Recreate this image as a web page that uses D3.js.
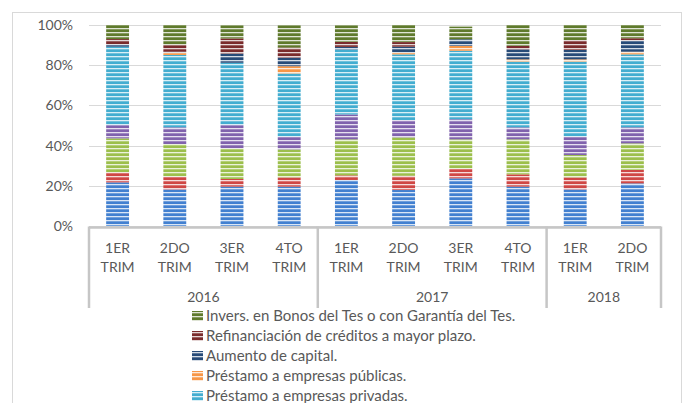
<!DOCTYPE html>
<html>
<head>
<meta charset="utf-8">
<script src="https://cdn.jsdelivr.net/npm/d3@7"></script>
<style>
  html, body { margin: 0; padding: 0; background: #fff; overflow: hidden; }
  svg { display: block; font-family: Lato, "Open Sans", sans-serif; }
</style>
</head>
<body>
<svg id="chart" width="686" height="403"></svg>
<script>
// ---- Data ----
const quarters = ["1ER TRIM","2DO TRIM","3ER TRIM","4TO TRIM","1ER TRIM","2DO TRIM","3ER TRIM","4TO TRIM","1ER TRIM","2DO TRIM"];
const years = ["2016","2017","2018"];
const yearSpan = [4, 4, 2];
const yTicks = [0, 20, 40, 60, 80, 100];

// series, bottom to top (the four lowest series' legend entries fall below the visible area)
const seriesNames = [
  "Otros destinos.",
  "Pago de deudas.",
  "Capital de trabajo.",
  "Inversión en activos fijos.",
  "Préstamo a empresas privadas.",
  "Préstamo a empresas públicas.",
  "Aumento de capital.",
  "Refinanciación de créditos a mayor plazo.",
  "Invers. en Bonos del Tes o con Garantía del Tes."
];
const seriesColors = ["#4280d0","#cf4745","#9cbf4c","#8062ad","#43add0","#f79646","#274b78","#7a2b2c","#5f7a2c"];

const sBlue    = [21.7,18.2,19.6,19.6,22.9,17.9,23.7,19.6,18.2,21.2];
const sRed     = [5.0,6.3,3.8,4.6,2.3,7.1,4.7,6.1,6.0,6.7];
const sGreen   = [16.9,16.3,15.2,13.9,17.9,19.1,14.7,17.4,11.1,13.2];
const sPurple  = [6.6,8.3,11.6,6.3,12.4,8.6,10.0,6.0,9.1,8.0];
const sCyan    = [39.0,36.0,31.0,31.5,32.3,32.7,34.1,32.7,37.4,36.3];
const sOrange  = [0,1.1,0,3.6,0,0.8,2.4,1.1,1.1,1.3];
const sNavy    = [1.2,0.5,4.6,4.3,1.3,3.0,3.3,5.0,4.7,5.5];
const sDarkRed = [2.6,3.3,7.5,5.0,2.5,2.3,0,1.7,4.9,1.2];
const sOlive   = [7.0,10.0,6.6,11.1,8.3,8.5,6.3,10.4,7.5,6.6];
const seriesValues = [sBlue,sRed,sGreen,sPurple,sCyan,sOrange,sNavy,sDarkRed,sOlive];

// ---- Build table ----
const table = quarters.map((q, i) => {
  const row = { idx: i };
  seriesNames.forEach((n, k) => row[n] = seriesValues[k][i]);
  return row;
});
const stacked = d3.stack().keys(seriesNames)(table);

// ---- Layout ----
const svg = d3.select("#chart");
const pLeft = 89, pRight = 661, pTop = 25, pBottom = 226;
const x = d3.scaleBand().domain(d3.range(quarters.length)).range([pLeft, pRight]).paddingInner(0.6).paddingOuter(0.3);
const y = d3.scaleLinear().domain([0, 100]).range([pBottom, pTop]);
const textColor = "#595959";

// frame
svg.append("rect").attr("x", 12.5).attr("y", 12.5).attr("width", 669).attr("height", 420)
  .attr("fill", "none").attr("stroke", "#d9d9d9").attr("stroke-width", 1);

// patterns
const defs = svg.append("defs");
seriesColors.forEach((c, k) => {
  const p = defs.append("pattern").attr("id", "pat" + k)
    .attr("patternUnits", "userSpaceOnUse").attr("width", 8).attr("height", 4);
  p.append("rect").attr("width", 8).attr("height", 4).attr("fill", c);
  p.append("rect").attr("y", 0).attr("width", 8).attr("height", 1.3).attr("fill", "#fff").attr("opacity", 0.8);
});

// gridlines
svg.append("g").selectAll("line").data(yTicks).join("line")
  .attr("x1", pLeft).attr("x2", pRight)
  .attr("y1", d => Math.round(y(d)) + 0.5).attr("y2", d => Math.round(y(d)) + 0.5)
  .attr("stroke", "#d9d9d9").attr("stroke-width", 1.2);

// y labels
svg.append("g").selectAll("text").data(yTicks).join("text")
  .attr("x", 73).attr("y", d => y(d)).attr("dy", "0.36em")
  .attr("text-anchor", "end").attr("font-size", 14).attr("fill", textColor)
  .text(d => d + "%");

// bars
svg.append("g").selectAll("g").data(stacked).join("g")
  .attr("fill", (d, k) => `url(#pat${k})`)
  .selectAll("rect").data(d => d).join("rect")
  .attr("x", d => x(d.data.idx)).attr("width", x.bandwidth())
  .attr("y", d => y(d[1])).attr("height", d => Math.max(0, y(d[0]) - y(d[1])));

// category axis
const axisColor = "#c6c6c6";
const axisBottom = 308;
const ax = svg.append("g").attr("stroke", axisColor).attr("stroke-width", 2.5).attr("fill", "none");
ax.append("line").attr("x1", pLeft).attr("x2", pRight).attr("y1", pBottom + 1.5).attr("y2", pBottom + 1.5);
const step = x.step();
let cum = 0;
const bounds = [0];
yearSpan.forEach(s => { cum += s; bounds.push(cum); });
ax.selectAll("line.sep").data(bounds).join("line").attr("class", "sep")
  .attr("x1", b => pLeft + b * step).attr("x2", b => pLeft + b * step)
  .attr("y1", pBottom + 0.5).attr("y2", axisBottom);

// quarter labels
const ql = svg.append("g").attr("font-size", 14).attr("fill", textColor).attr("text-anchor", "middle");
quarters.forEach((q, i) => {
  const parts = q.split(" ");
  const cx = x(i) + x.bandwidth() / 2;
  ql.append("text").attr("x", cx).attr("y", 253).text(parts[0]);
  ql.append("text").attr("x", cx).attr("y", 272).text(parts[1]);
});
// year labels
svg.append("g").attr("font-size", 14).attr("fill", textColor).attr("text-anchor", "middle")
  .selectAll("text").data(years).join("text")
  .attr("x", (d, j) => pLeft + (bounds[j] + bounds[j + 1]) / 2 * step)
  .attr("y", 302).text(d => d);

// legend (top series first); rows beyond the window are not drawn, as in the reference
const legendOrder = d3.range(seriesNames.length).reverse();
const lg = svg.append("g");
legendOrder.forEach((k, r) => {
  const cy = 316 + r * 20;
  if (cy > 403) return;
  lg.append("rect").attr("x", 192).attr("y", cy - 5).attr("width", 11).attr("height", 10)
    .attr("fill", `url(#pat${k})`);
  lg.append("text").attr("x", 206).attr("y", cy).attr("dy", "0.36em")
    .attr("font-size", 15).attr("fill", textColor).text(seriesNames[k]);
});
</script>
</body>
</html>
